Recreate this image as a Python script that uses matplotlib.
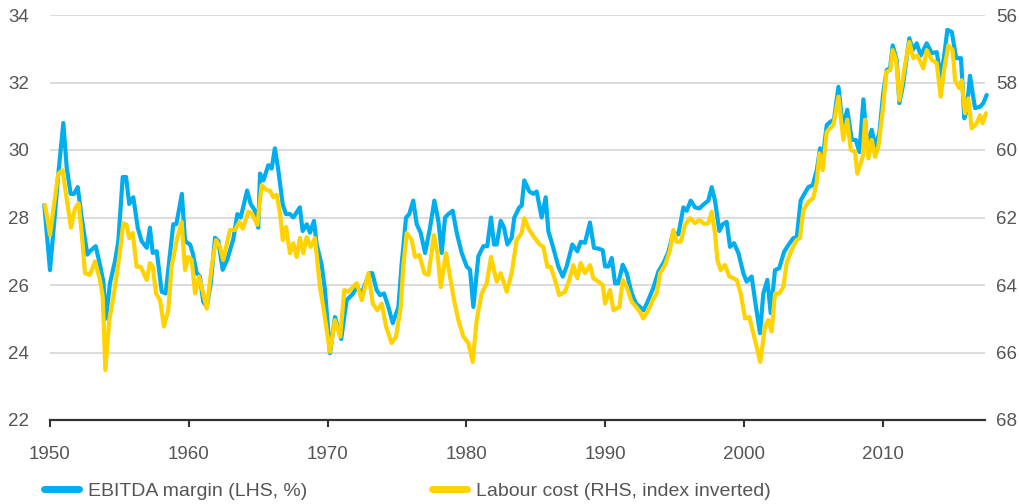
import matplotlib
matplotlib.use("Agg")
import matplotlib.pyplot as plt

# EBITDA margin (LHS, %)
ebitda_years = [
    1949.59, 1950.00, 1950.36, 1950.60, 1950.96, 1951.20, 1951.49, 1951.73, 1952.00, 1952.28,
    1952.69, 1952.88, 1953.29, 1953.60, 1953.84, 1954.03, 1954.32, 1954.68, 1954.92, 1955.24,
    1955.48, 1955.71, 1956.00, 1956.32, 1956.60, 1956.97, 1957.20, 1957.40, 1957.69, 1958.05,
    1958.33, 1958.88, 1959.10, 1959.50, 1959.73, 1960.09, 1960.28, 1960.57, 1960.80, 1961.04,
    1961.30, 1961.58, 1961.89, 1962.13, 1962.44, 1962.77, 1963.20, 1963.50, 1963.74, 1964.20,
    1964.46, 1964.77, 1965.00, 1965.13, 1965.37, 1965.73, 1965.97, 1966.20, 1966.45, 1966.76,
    1967.00, 1967.30, 1967.53, 1968.00, 1968.20, 1968.50, 1968.73, 1969.02, 1969.21, 1969.57,
    1969.81, 1970.17, 1970.53, 1970.98, 1971.37, 1971.85, 1972.10, 1972.46, 1973.00, 1973.22,
    1973.53, 1973.78, 1974.06, 1974.38, 1974.69, 1975.10, 1975.33, 1975.65, 1975.88, 1976.17,
    1976.42, 1976.70, 1977.02, 1977.38, 1977.69, 1977.98, 1978.22, 1978.46, 1978.70, 1979.01,
    1979.30, 1979.66, 1980.02, 1980.26, 1980.50, 1980.86, 1981.22, 1981.50, 1981.77, 1981.99,
    1982.18, 1982.47, 1982.71, 1982.95, 1983.26, 1983.45, 1983.81, 1983.98, 1984.17, 1984.53,
    1984.82, 1985.06, 1985.42, 1985.71, 1985.90, 1986.26, 1986.62, 1986.94, 1987.22, 1987.63,
    1987.99, 1988.23, 1988.54, 1988.90, 1989.19, 1989.50, 1989.82, 1989.99, 1990.23, 1990.47,
    1990.71, 1990.94, 1991.26, 1991.55, 1991.91, 1992.22, 1992.51, 1992.77, 1993.10, 1993.45,
    1993.83, 1994.19, 1994.55, 1994.90, 1995.27, 1995.63, 1995.87, 1996.16, 1996.47, 1996.78,
    1997.12, 1997.43, 1997.67, 1997.91, 1998.22, 1998.46, 1998.75, 1998.99, 1999.28, 1999.60,
    1999.95, 2000.19, 2000.55, 2000.79, 2001.15, 2001.39, 2001.68, 2001.92, 2002.23, 2002.54,
    2002.88, 2003.19, 2003.55, 2003.80, 2004.08, 2004.39, 2004.63, 2004.95, 2005.24, 2005.48,
    2005.71, 2005.96, 2006.20, 2006.48, 2006.80, 2007.11, 2007.44, 2007.76, 2008.05, 2008.31,
    2008.60, 2008.88, 2009.20, 2009.44, 2009.75, 2010.03, 2010.28, 2010.52, 2010.71, 2011.00,
    2011.19, 2011.43, 2011.67, 2011.91, 2012.15, 2012.44, 2012.73, 2013.16, 2013.52, 2013.88,
    2014.17, 2014.41, 2014.65, 2014.97, 2015.28, 2015.63, 2015.87, 2016.04, 2016.28, 2016.64,
    2017.00, 2017.24, 2017.48,
]
ebitda_margin = [
    28.37, 26.44, 28.13, 29.30, 30.80, 29.50, 28.70, 28.70, 28.90, 28.00,
    26.90, 27.00, 27.15, 26.60, 26.10, 25.00, 26.05, 26.70, 27.30, 29.20,
    29.20, 28.40, 28.60, 27.70, 27.30, 27.10, 27.70, 26.95, 27.00, 25.80,
    25.75, 27.80, 27.80, 28.70, 27.30, 27.20, 26.95, 26.35, 26.25, 25.50,
    25.35, 26.05, 27.40, 27.30, 26.45, 26.75, 27.35, 28.10, 28.00, 28.80,
    28.40, 28.20, 27.70, 29.30, 29.10, 29.55, 29.45, 30.05, 29.40, 28.40,
    28.10, 28.10, 28.00, 28.30, 27.60, 27.80, 27.55, 27.90, 27.20, 26.60,
    25.85, 23.98, 25.05, 24.40, 25.55, 25.75, 25.95, 25.75, 26.35, 26.35,
    25.85, 25.70, 25.75, 25.35, 24.87, 25.35, 26.60, 28.00, 28.10, 28.50,
    27.80, 27.55, 26.95, 27.70, 28.50, 27.90, 26.95, 28.00, 28.10, 28.20,
    27.55, 26.95, 26.55, 26.45, 25.35, 26.85, 27.15, 27.15, 28.00, 27.20,
    27.20, 27.90, 27.70, 27.20, 27.40, 28.00, 28.30, 28.35, 29.10, 28.77,
    28.70, 28.77, 28.00, 28.60, 27.60, 27.10, 26.55, 26.25, 26.55, 27.20,
    27.00, 27.28, 27.25, 27.85, 27.10, 27.08, 27.03, 26.55, 26.55, 26.80,
    26.05, 26.05, 26.60, 26.35, 25.75, 25.45, 25.35, 25.25, 25.55, 25.90,
    26.40, 26.65, 26.98, 27.55, 27.50, 28.30, 28.20, 28.50, 28.30, 28.27,
    28.40, 28.50, 28.90, 28.50, 27.60, 27.80, 27.87, 27.13, 27.24, 26.94,
    26.35, 26.10, 26.25, 25.55, 24.57, 25.75, 26.15, 25.17, 26.44, 26.50,
    26.98, 27.18, 27.39, 27.42, 28.50, 28.73, 28.90, 28.96, 29.40, 30.05,
    29.90, 30.74, 30.83, 30.90, 31.87, 30.68, 31.19, 30.30, 30.30, 29.94,
    31.50, 30.10, 30.60, 30.10, 30.50, 31.70, 32.37, 32.42, 33.10, 32.67,
    31.39, 31.87, 32.58, 33.31, 32.96, 33.16, 32.80, 33.16, 32.87, 32.90,
    32.17, 32.76, 33.56, 33.50, 32.72, 32.72, 30.94, 31.18, 32.20, 31.24,
    31.28, 31.39, 31.63,
]

# Labour cost (RHS, index, axis inverted)
labour_years = [
    1949.64, 1950.00, 1950.36, 1950.60, 1950.91, 1951.15, 1951.51, 1951.80, 1952.07, 1952.35,
    1952.52, 1952.88, 1953.24, 1953.60, 1953.80, 1953.99, 1954.27, 1954.61, 1954.99, 1955.28,
    1955.52, 1955.71, 1955.96, 1956.24, 1956.53, 1956.97, 1957.20, 1957.40, 1957.64, 1957.93,
    1958.21, 1958.52, 1958.76, 1959.13, 1959.49, 1959.73, 1959.96, 1960.21, 1960.45, 1960.73,
    1961.04, 1961.29, 1961.65, 1961.96, 1962.25, 1962.48, 1962.97, 1963.33, 1963.64, 1963.88,
    1964.29, 1964.53, 1964.94, 1965.25, 1965.61, 1965.85, 1966.09, 1966.33, 1966.57, 1966.77,
    1967.00, 1967.29, 1967.53, 1967.77, 1968.01, 1968.25, 1968.49, 1968.78, 1969.09, 1969.45,
    1969.69, 1970.17, 1970.53, 1970.91, 1971.20, 1971.49, 1972.10, 1972.46, 1972.94, 1973.25,
    1973.58, 1973.90, 1974.21, 1974.61, 1974.93, 1975.27, 1975.45, 1975.70, 1976.06, 1976.30,
    1976.61, 1976.97, 1977.26, 1977.67, 1977.91, 1978.15, 1978.53, 1978.82, 1979.11, 1979.42,
    1979.78, 1980.14, 1980.45, 1980.74, 1981.10, 1981.46, 1981.77, 1982.18, 1982.47, 1982.90,
    1983.26, 1983.62, 1983.98, 1984.17, 1984.53, 1984.87, 1985.30, 1985.54, 1985.83, 1986.07,
    1986.38, 1986.69, 1987.10, 1987.41, 1987.70, 1987.99, 1988.23, 1988.54, 1988.90, 1989.14,
    1989.50, 1989.82, 1989.99, 1990.35, 1990.59, 1991.02, 1991.26, 1991.55, 1991.91, 1992.22,
    1992.51, 1992.74, 1993.10, 1993.42, 1993.71, 1993.95, 1994.31, 1994.67, 1994.90, 1995.15,
    1995.44, 1995.75, 1996.11, 1996.47, 1996.78, 1997.12, 1997.43, 1997.67, 1997.91, 1998.08,
    1998.32, 1998.63, 1998.94, 1999.23, 1999.47, 1999.76, 2000.07, 2000.38, 2000.79, 2001.17,
    2001.51, 2001.75, 2001.99, 2002.23, 2002.54, 2002.83, 2003.07, 2003.43, 2003.79, 2004.03,
    2004.27, 2004.63, 2004.99, 2005.24, 2005.43, 2005.67, 2005.96, 2006.44, 2006.80, 2007.16,
    2007.44, 2007.69, 2008.00, 2008.16, 2008.55, 2008.72, 2008.96, 2009.20, 2009.44, 2009.68,
    2010.00, 2010.25, 2010.54, 2010.71, 2010.96, 2011.19, 2011.60, 2011.91, 2012.20, 2012.49,
    2012.92, 2013.16, 2013.52, 2013.88, 2014.17, 2014.41, 2014.72, 2015.03, 2015.20, 2015.51,
    2015.68, 2015.92, 2016.16, 2016.40, 2016.76, 2017.00, 2017.19, 2017.43,
]
labour_cost = [
    61.63, 62.52, 61.40, 60.70, 60.60, 61.30, 62.30, 61.73, 61.58, 62.76,
    63.65, 63.70, 63.30, 63.85, 64.35, 66.52, 65.04, 64.25, 63.17, 62.17,
    62.22, 62.61, 62.46, 63.46, 63.46, 63.85, 63.35, 63.45, 64.25, 64.45,
    65.23, 64.75, 63.45, 62.67, 62.13, 63.56, 63.17, 63.26, 64.25, 63.75,
    64.25, 64.70, 63.45, 62.67, 62.87, 63.26, 62.37, 62.37, 62.13, 62.33,
    61.83, 61.87, 62.22, 61.04, 61.19, 61.21, 61.40, 61.33, 61.87, 62.67,
    62.28, 63.06, 62.76, 63.17, 62.61, 63.06, 62.58, 62.87, 62.61, 64.06,
    64.65, 65.98, 65.04, 65.53, 64.15, 64.20, 63.95, 64.45, 63.65, 64.55,
    64.75, 64.55, 65.23, 65.72, 65.53, 64.65, 63.45, 62.46, 62.67, 63.17,
    63.11, 63.65, 63.70, 62.52, 63.06, 64.06, 63.06, 63.75, 64.45, 65.04,
    65.53, 65.72, 66.28, 65.04, 64.25, 63.95, 63.17, 63.90, 63.65, 64.20,
    63.65, 62.67, 62.46, 62.02, 62.37, 62.58, 62.81, 62.87, 63.46, 63.46,
    63.85, 64.30, 64.20, 63.85, 63.41, 63.80, 63.35, 63.65, 63.41, 63.80,
    63.90, 64.00, 64.55, 64.15, 64.75, 64.65, 63.85, 64.06, 64.50, 64.65,
    64.80, 64.99, 64.75, 64.45, 64.25, 63.65, 63.41, 62.96, 62.37, 62.72,
    62.72, 62.22, 62.02, 62.17, 62.07, 62.19, 62.17, 61.83, 62.47, 63.26,
    63.56, 63.41, 63.75, 63.80, 63.85, 64.25, 64.99, 64.95, 65.63, 66.28,
    65.23, 65.04, 65.38, 64.25, 64.25, 64.06, 63.35, 62.96, 62.67, 62.61,
    61.78, 61.54, 61.42, 60.94, 60.10, 60.60, 59.46, 59.26, 58.42, 59.70,
    59.10, 60.00, 60.05, 60.70, 60.20, 59.10, 60.25, 59.70, 60.20, 59.90,
    58.81, 57.69, 57.63, 57.04, 57.33, 58.52, 57.48, 56.80, 57.28, 57.20,
    57.58, 57.04, 57.33, 57.42, 58.42, 57.63, 56.90, 57.04, 57.93, 58.17,
    57.93, 58.91, 58.47, 59.36, 59.21, 58.97, 59.21, 58.91,
]

x_ticks = [1950, 1960, 1970, 1980, 1990, 2000, 2010]
left_ticks = [22, 24, 26, 28, 30, 32, 34]
right_ticks = [56, 58, 60, 62, 64, 66, 68]

BLUE = "#00AEEF"
YELLOW = "#FFD200"
GREY_TXT = "#555555"

plt.rcParams['font.family'] = ['Liberation Sans', 'DejaVu Sans']

fig = plt.figure(figsize=(10.2, 5.04), dpi=100)
ax = fig.add_axes([50 / 1020, 84 / 504, 935 / 1020, 405 / 504])
ax2 = ax.twinx()

l1, = ax.plot(ebitda_years, ebitda_margin, color=BLUE, lw=3.0, clip_on=False,
              solid_joinstyle='round', solid_capstyle='round',
              label="EBITDA margin (LHS, %)")
l2, = ax2.plot(labour_years, labour_cost, color=YELLOW, lw=3.0, clip_on=False,
               solid_joinstyle='round', solid_capstyle='round',
               label="Labour cost (RHS, index inverted)")

ax.set_xlim(1950, 2017.36)
ax.set_ylim(22, 34)
ax2.set_ylim(68, 56)

ax.set_xticks(x_ticks)
ax.set_yticks(left_ticks)
ax2.set_yticks(right_ticks)

ax.grid(axis='y', color='#d9d9d9', lw=1.3)
ax.set_axisbelow(True)

for a in (ax, ax2):
    for s in ('top', 'left', 'right', 'bottom'):
        a.spines[s].set_visible(False)
ax.spines['bottom'].set_visible(True)
ax.spines['bottom'].set_color('#333333')
ax.spines['bottom'].set_linewidth(1.6)

ax.tick_params(axis='x', direction='out', length=5, width=1.5, color='#333333',
               labelcolor=GREY_TXT, labelsize=13.5, pad=14)
ax.tick_params(axis='y', length=0, labelcolor=GREY_TXT, labelsize=13.5, pad=15)
ax2.tick_params(axis='y', length=0, labelcolor=GREY_TXT, labelsize=13.5, pad=8)

leg = fig.legend(handles=[l1, l2], loc='center left',
                 bbox_to_anchor=(44 / 1020, 1 - 491 / 504), ncol=2,
                 frameon=False, fontsize=14, handlelength=1.8,
                 handletextpad=0.46, columnspacing=6.4, borderpad=0,
                 borderaxespad=0, labelcolor=GREY_TXT)
for h in leg.legend_handles:
    h.set_linewidth(5)
    h.set_solid_capstyle('round')

fig.savefig("out.png", dpi=100)
